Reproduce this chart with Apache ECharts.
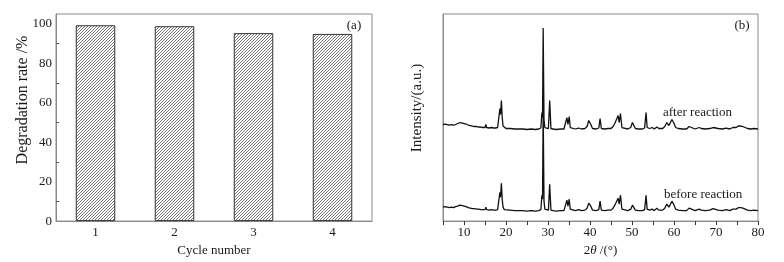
<!DOCTYPE html>
<html><head><meta charset="utf-8">
<script src="https://cdn.jsdelivr.net/npm/echarts@6/dist/echarts.min.js"></script>
<style>html,body{margin:0;padding:0;background:#fff}#c{width:784px;height:262px}</style>
</head><body><div id="c"></div>
<script>
// ---- data ----
const cycles = ['1', '2', '3', '4'];
const degradation = [99.3, 98.8, 95.3, 94.9];
const rateTicks = [0, 20, 40, 60, 80, 100];
const angleTicks = [10, 20, 30, 40, 50, 60, 70, 80];
const beforeReaction = [
[5,14],[5.5,14.5],[6,14],[6.5,13.5],[7,14],[7.5,13.5],[8,14.5],[8.5,15],[9,16],[9.3,15],[9.6,15.5],[10,14],[10.5,14.5],[11,13.5],[11.5,13],[12,12.5],[12.5,12.5],[13,12],[13.5,12],[14,11.5],[14.5,11.5],[15,11.5],[15.2,14],[15.4,11.5],[16,11],[16.5,11.5],[17,11],[17.5,11],[18,11.5],[18.3,13],[18.55,29],[18.7,24],[18.9,38],[19.1,22],[19.3,14],[19.6,11.5],[20,11],[21,11],[22,10.5],[23,10.5],[24,10.5],[25,10],[26,10.5],[27,10],[27.8,10.5],[28.3,11.5],[28.55,26],[28.7,22],[28.85,112],[29.05,20],[29.25,12],[29.6,10.5],[30.1,11],[30.4,37],[30.7,11],[31.2,10.5],[32,10],[33,10.5],[33.8,10.5],[34.2,12],[34.5,21],[34.75,15],[35.05,22],[35.3,12],[35.7,10.5],[36.5,10.5],[37.3,11.5],[38,10.5],[38.8,11],[39.3,13],[39.7,18],[39.95,19],[40.2,15],[40.6,11],[41.5,10.5],[42.1,11.5],[42.4,20],[42.7,11],[43.5,10.5],[44.3,11],[45,11],[45.5,13],[45.9,16],[46.2,14],[46.7,23],[46.95,17],[47.25,26],[47.6,12],[48,11],[49,10.5],[49.7,12],[50.1,16],[50.4,15],[50.8,11],[51.5,10.5],[52.5,10.5],[53,11.5],[53.35,26],[53.6,12],[54.2,11],[54.8,12],[55.3,10.5],[55.9,13],[56.4,11],[57.3,11],[57.8,13],[58.3,17],[58.8,14],[59.5,20],[59.9,17],[60.4,12],[61,11],[62,10.5],[63,10.5],[63.6,13],[63.9,11],[65,10.5],[66,12],[66.5,11],[67.5,10.5],[68.5,11],[69.3,12.5],[69.7,12.5],[70.5,11],[71.5,10.5],[72.4,11.5],[73.3,10.5],[74,12],[74.4,14],[74.8,12],[75.3,13.5],[75.6,12],[75.9,13.5],[76.4,13],[76.8,11],[77.5,11],[78.3,10.5],[79,11],[80,10.5]
];
const afterReaction = [
[5,97],[5.5,97.5],[6,97],[6.5,96.5],[7,97],[7.5,96.5],[8,97],[8.5,98],[9,99],[9.3,98],[9.6,98.5],[10,97],[10.5,97.5],[11,96.5],[11.5,96],[12,95.5],[12.5,95],[13,95],[13.5,94.5],[14,94.5],[14.5,94],[15,94],[15.2,97],[15.4,94],[16,93.5],[16.5,94],[17,93.5],[17.5,93.5],[18,94],[18.3,95.5],[18.55,113],[18.7,107],[18.9,121],[19.1,104],[19.3,95.5],[19.6,93.5],[20,93],[21,93],[22,92.5],[23,92.5],[24,92.5],[25,92],[26,92.5],[27,92],[27.8,92.5],[28.3,93.5],[28.55,109],[28.7,104],[28.85,194],[29.05,102],[29.25,94],[29.6,92.5],[30.1,93],[30.4,121],[30.7,93],[31.2,92.5],[32,92],[33,92.5],[33.8,92.5],[34.2,94],[34.5,104],[34.75,97],[35.05,105],[35.3,94],[35.7,92.5],[36.5,92.5],[37.3,93.5],[38,92.5],[38.8,93],[39.3,95],[39.7,101],[39.95,102],[40.2,97],[40.6,93],[41.5,92.5],[42.1,93.5],[42.4,103],[42.7,93],[43.5,92.5],[44.3,93],[45,93],[45.5,95],[45.9,98],[46.2,96],[46.7,106],[46.95,99],[47.25,108],[47.6,94],[48,93],[49,92.5],[49.7,94],[50.1,99],[50.4,97],[50.8,93],[51.5,92.5],[52.5,92.5],[53,93.5],[53.35,109],[53.6,94],[54.2,93],[54.8,94],[55.3,92.5],[55.9,94.5],[56.4,93],[57.3,93],[57.8,95],[58.3,99],[58.8,96],[59.5,102],[59.9,99],[60.4,94],[61,93],[62,92.5],[63,92.5],[63.6,95],[63.9,93],[65,92.5],[66,94],[66.5,93],[67.5,92.5],[68.5,93],[69.3,94],[69.7,94],[70.5,93],[71.5,92.5],[72.4,93.5],[73.3,92.5],[74,94],[74.4,96],[74.8,94],[75.3,95.5],[75.6,94],[75.9,95.5],[76.4,95],[76.8,93],[77.5,93],[78.3,92.5],[79,93],[80,92.5]
];

// ---- styling ----
const FF = '"Liberation Serif", "Times New Roman", serif';
const TXT = '#1a1a1a';
const AX = '#8a8a8a';

function hatch() {
  const c = document.createElement('canvas');
  c.width = 3; c.height = 3;
  const g = c.getContext('2d');
  g.fillStyle = '#fff'; g.fillRect(0, 0, 3, 3);
  g.strokeStyle = '#555'; g.lineWidth = 0.8;
  g.beginPath();
  g.moveTo(-1, 4); g.lineTo(4, -1);
  g.moveTo(-1, 1); g.lineTo(1, -1);
  g.moveTo(2, 4); g.lineTo(4, 2);
  g.stroke();
  return c;
}

const chart = echarts.init(document.getElementById('c'), null, {renderer: 'canvas'});
const lbl = {color: TXT, fontFamily: FF, fontSize: 13};
chart.setOption({
  animation: false,
  backgroundColor: '#fff',
  grid: [
    {left: 56, right: 412, top: 14, bottom: 40, show: true, borderColor: AX, borderWidth: 1},
    {left: 443, right: 26, top: 14, bottom: 40, show: true, borderColor: AX, borderWidth: 1}
  ],
  xAxis: [
    {gridIndex: 0, type: 'category', data: cycles,
     axisLine: {lineStyle: {color: AX}},
     axisTick: {inside: true, alignWithLabel: true, length: 5, lineStyle: {color: '#333'}},
     axisLabel: Object.assign({margin: 5}, lbl),
     name: 'Cycle number', nameLocation: 'middle', nameGap: 21,
     nameTextStyle: {color: TXT, fontFamily: FF, fontSize: 13}},
    {gridIndex: 0, type: 'category', data: cycles,
     axisLine: {show: false},
     axisTick: {inside: true, length: 3, lineStyle: {color: '#555'}},
     axisLabel: {show: false}},
    {gridIndex: 1, type: 'value', min: 5, max: 80, interval: 5,
     axisLine: {lineStyle: {color: AX}},
     axisTick: {inside: false, length: 4, lineStyle: {color: '#333'}},
     axisLabel: Object.assign({margin: 5, formatter: v => angleTicks.includes(v) ? String(v) : ''}, lbl),
     splitLine: {show: false},
     name: '{n|2}{i|θ}{n| /(°)}', nameLocation: 'middle', nameGap: 21,
     nameTextStyle: {rich: {n: {color: TXT, fontFamily: FF, fontSize: 13}, i: {color: TXT, fontFamily: FF, fontSize: 13, fontStyle: 'italic'}}}}
  ],
  yAxis: [
    {gridIndex: 0, type: 'value', min: 0, max: 105, interval: 20,
     axisLine: {show: true, lineStyle: {color: AX}},
     axisTick: {inside: true, length: 5, lineStyle: {color: '#333'}},
     minorTick: {show: true, splitNumber: 2, length: 3, lineStyle: {color: '#555'}},
     axisLabel: Object.assign({margin: 4, formatter: v => rateTicks.includes(v) ? String(v) : ''}, lbl),
     splitLine: {show: false}},
    {gridIndex: 1, type: 'value', min: 0, max: 208,
     axisLine: {show: true, lineStyle: {color: AX}},
     axisTick: {show: false}, axisLabel: {show: false}, splitLine: {show: false}}
  ],
  series: [
    {type: 'bar', xAxisIndex: 0, yAxisIndex: 0, data: degradation, barWidth: '50%',
     itemStyle: {color: {image: hatch(), repeat: 'repeat'}, borderColor: '#333', borderWidth: 1}},
    {type: 'line', xAxisIndex: 2, yAxisIndex: 1, data: beforeReaction, showSymbol: false, symbol: 'none',
     lineStyle: {color: '#111', width: 1.3}},
    {type: 'line', xAxisIndex: 2, yAxisIndex: 1, data: afterReaction, showSymbol: false, symbol: 'none',
     lineStyle: {color: '#111', width: 1.3}}
  ],
  graphic: [
    {type: 'text', x: 23, y: 100, rotation: Math.PI / 2,
     style: {text: 'Degradation rate /%', font: '16px ' + FF, fill: TXT, align: 'center', verticalAlign: 'middle', textAlign: 'center', textVerticalAlign: 'middle'}},
    {type: 'text', x: 417, y: 108, rotation: Math.PI / 2,
     style: {text: 'Intensity/(a.u.)', font: '15px ' + FF, fill: TXT, align: 'center', verticalAlign: 'middle', textAlign: 'center', textVerticalAlign: 'middle'}},
    {type: 'text', x: 354, y: 26,
     style: {text: '(a)', font: '13px ' + FF, fill: TXT, align: 'center', verticalAlign: 'middle', textAlign: 'center', textVerticalAlign: 'middle'}},
    {type: 'text', x: 742, y: 26,
     style: {text: '(b)', font: '13px ' + FF, fill: TXT, align: 'center', verticalAlign: 'middle', textAlign: 'center', textVerticalAlign: 'middle'}},
    {type: 'text', x: 663, y: 113,
     style: {text: 'after reaction', font: '13px ' + FF, fill: TXT, align: 'left', verticalAlign: 'middle', textAlign: 'left', textVerticalAlign: 'middle'}},
    {type: 'text', x: 664, y: 195,
     style: {text: 'before reaction', font: '13px ' + FF, fill: TXT, align: 'left', verticalAlign: 'middle', textAlign: 'left', textVerticalAlign: 'middle'}}
  ]
});
</script>
</body></html>
